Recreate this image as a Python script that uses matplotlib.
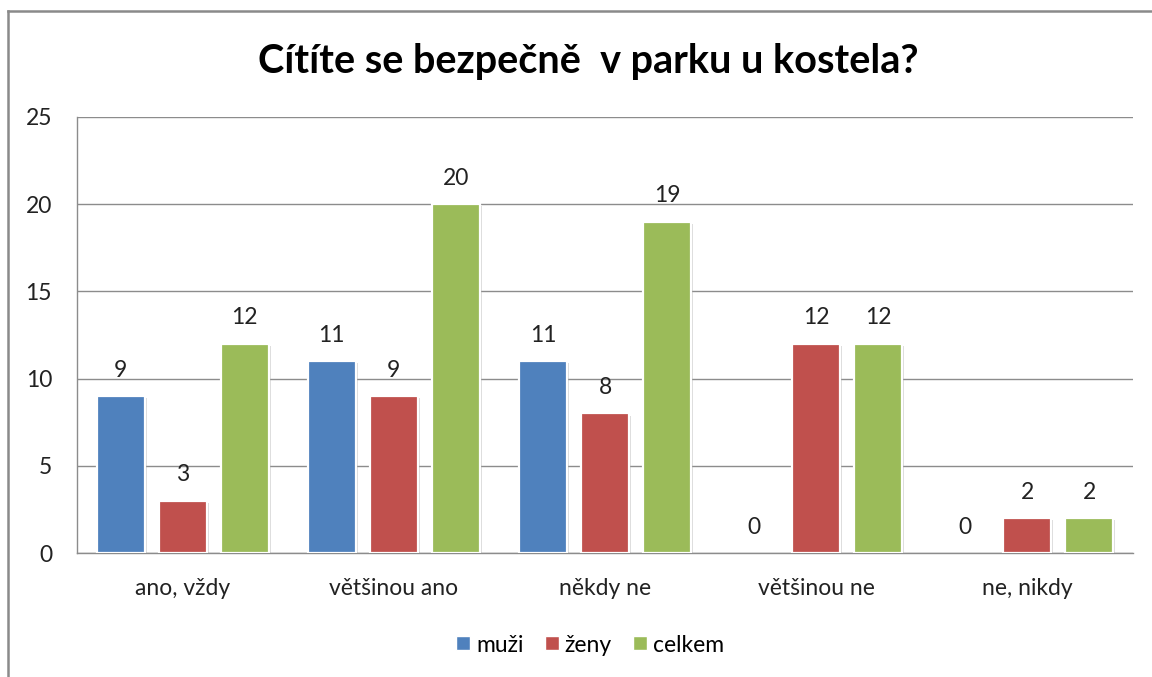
import matplotlib
matplotlib.use("Agg")
import matplotlib.pyplot as plt
import matplotlib.patheffects as pe
from matplotlib.lines import Line2D
import numpy as np

plt.rcParams['font.family'] = ['Lato', 'DejaVu Sans']

categories = ["ano, vždy", "většinou ano", "někdy ne", "většinou ne", "ne, nikdy"]
series_names = ["muži", "ženy", "celkem"]
muzi = [9, 11, 11, 0, 0]
zeny = [3, 9, 8, 12, 2]
celkem = [12, 20, 19, 12, 2]
colors = ["#4F81BD", "#C0504D", "#9BBB59"]
title = "Cítíte se bezpečně  v parku u kostela?"
yticks = [0, 5, 10, 15, 20, 25]

W, H = 1152, 677
FS = 16.5
fig = plt.figure(figsize=(W / 100, H / 100), dpi=100)
ax = fig.add_axes([77 / W, 1 - 553 / H, (1133 - 77) / W, (553 - 117) / H])

x = np.arange(len(categories))
pitch = 62 / 211.2
bw = 48 / 211.2
shadow = [pe.SimplePatchShadow(offset=(1.5, -1.5), shadow_rgbFace='#9a9a9a', alpha=0.35), pe.Normal()]
for i, (vals, c) in enumerate(zip([muzi, zeny, celkem], colors)):
    xs = x + (i - 1) * pitch
    bars = ax.bar(xs, vals, width=bw, color=c, edgecolor='white', linewidth=1.6, zorder=3)
    for b, v in zip(bars, vals):
        if v > 0:
            b.set_path_effects(shadow)
        else:
            b.set_linewidth(0)
    for xi, v in zip(xs, vals):
        ax.annotate(str(v), (xi, v), xytext=(0, 11), textcoords='offset points',
                    ha='center', va='bottom', fontsize=FS, color='#222222')

ax.set_xlim(-0.5, len(categories) - 0.5)
ax.set_ylim(0, 25)
ax.set_yticks(yticks)
ax.set_yticklabels([str(t) for t in yticks], fontsize=FS, color='#222222')
ax.set_xticks(x)
ax.set_xticklabels(categories, fontsize=FS, color='#222222')
ax.tick_params(axis='y', length=0, pad=18)
ax.tick_params(axis='x', length=0, pad=18)
ax.grid(axis='y', color='#8c8c8c', linewidth=1.0, zorder=0)
ax.set_axisbelow(True)
for s in ['top', 'right']:
    ax.spines[s].set_visible(False)
for s in ['left', 'bottom']:
    ax.spines[s].set_color('#8c8c8c')
    ax.spines[s].set_linewidth(1.0)

fig.text(588 / W, 1 - 62 / H, title, ha='center', va='center', fontsize=28.5, fontweight='bold', color='black')

handles = [Line2D([], [], marker='s', linestyle='none', markersize=10, markerfacecolor=c,
                  markeredgecolor='white') for c in colors]
fig.legend(handles, series_names, loc='center', bbox_to_anchor=(588 / W, 1 - 645 / H), ncol=3,
           frameon=False, fontsize=FS, handletextpad=0.05, columnspacing=0.75, handlelength=1.0)

# outer frame (left and top only, as cropped in reference)
fig.add_artist(Line2D([8 / W, 8 / W], [0, 1 - 11 / H], transform=fig.transFigure, color='#8a8a8a', linewidth=1.8))
fig.add_artist(Line2D([8 / W, 1], [1 - 11 / H, 1 - 11 / H], transform=fig.transFigure, color='#8a8a8a', linewidth=1.8))

fig.savefig("out.png", dpi=100)
